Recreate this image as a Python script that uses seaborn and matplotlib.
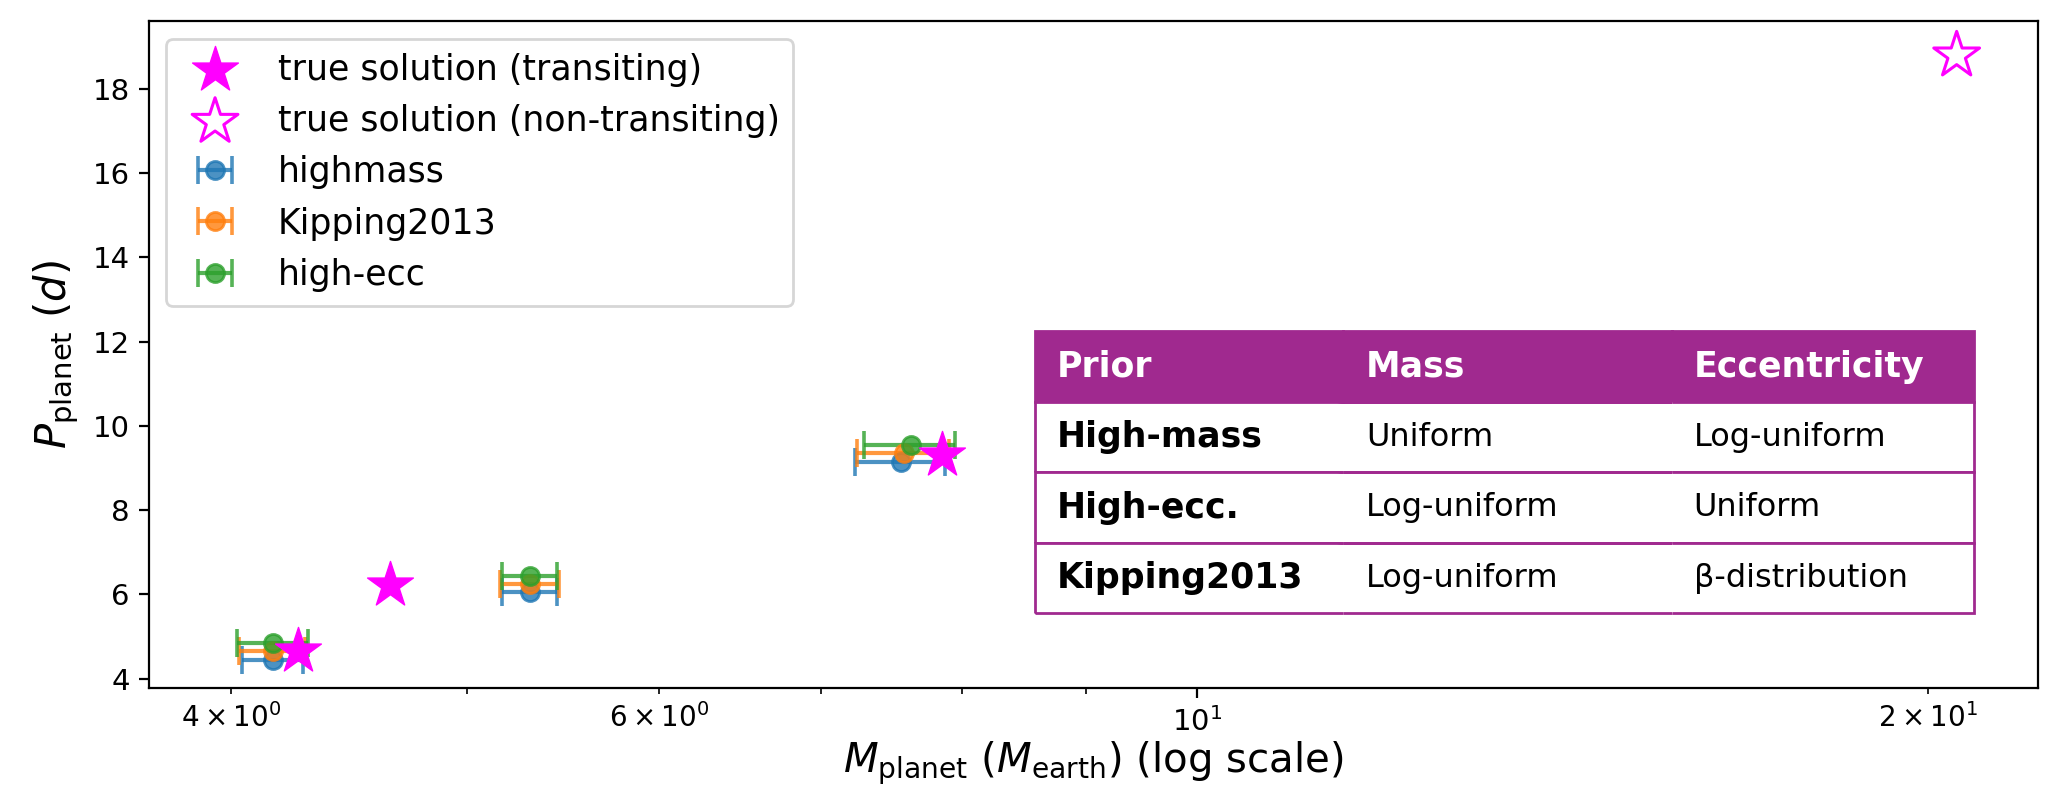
#!/usr/bin/env python3

# Planet mass vs period: true solutions and fitted results for three priors.

import matplotlib
matplotlib.use('Agg')
import matplotlib.pyplot as plt
import seaborn as sns

# true solutions
true_mass = [4.26, 4.65, 7.85]
true_period = [4.66, 6.22, 9.31]
nontransit_mass = [20.55]
nontransit_period = [18.79]

# fitted results (one point per planet, per prior)
fit_labels = ['highmass', 'Kipping2013', 'high-ecc']
fit_mass = [
    [4.16, 5.31, 7.55],
    [4.16, 5.31, 7.57],
    [4.16, 5.31, 7.62],
]
fit_mass_err = [
    [0.12, 0.14, 0.32],
    [0.13, 0.15, 0.33],
    [0.14, 0.14, 0.33],
]
fit_period = [
    [4.45, 6.06, 9.14],
    [4.65, 6.25, 9.36],
    [4.85, 6.43, 9.55],
]

table_header = ['Prior', 'Mass', 'Eccentricity']
table_rows = [
    ['High-mass', 'Uniform', 'Log-uniform'],
    ['High-ecc.', 'Log-uniform', 'Uniform'],
    ['Kipping2013', 'Log-uniform', 'β-distribution'],
]

PURPLE = '#a0298f'
MAGENTA = '#ff00ff'


def plot_fits(ax):
    colors = sns.color_palette('tab10', 3)
    for label, m, e, p, c in zip(fit_labels, fit_mass, fit_mass_err,
                                 fit_period, colors):
        ax.errorbar(m, p, xerr=e, fmt='o', color=c, alpha=0.8,
                    markersize=6.5, elinewidth=1.5, capsize=5,
                    capthick=1.3, label=label)


def plot_truth(ax):
    sns.scatterplot(x=true_mass, y=true_period, marker='*', s=300,
                    color=MAGENTA, edgecolor=MAGENTA, linewidth=0.5,
                    label='true solution (transiting)', ax=ax, zorder=5)
    ax.scatter(nontransit_mass, nontransit_period, marker='*', s=300,
               facecolors='none', edgecolors=MAGENTA, linewidths=1.1,
               label='true solution (non-transiting)', zorder=5)


def draw_table(ax):
    tab = ax.table(
        cellText=[table_header] + table_rows,
        colWidths=[0.328, 0.351, 0.321],
        cellLoc='left',
        bbox=[0.469, 0.112, 0.497, 0.423],
    )
    tab.auto_set_font_size(False)
    for (r, c), cell in tab.get_celld().items():
        cell.set_edgecolor(PURPLE)
        cell.set_linewidth(1.0)
        cell.PAD = 0.07
        txt = cell.get_text()
        txt.set_fontsize(11.5)
        if r == 0:
            cell.set_facecolor(PURPLE)
            txt.set_color('white')
            txt.set_weight('bold')
            txt.set_fontsize(12.5)
            cell.visible_edges = 'closed'
        else:
            cell.set_facecolor('white')
            txt.set_color('black')
            if c == 0:
                txt.set_weight('bold')
                txt.set_fontsize(12.5)
                cell.visible_edges = 'BTL'
            elif c == 2:
                cell.visible_edges = 'BTR'
            else:
                cell.visible_edges = 'BT'
    return tab


def main():
    sns.set_style('ticks')
    plt.rcParams['font.family'] = ['DejaVu Sans']
    for key in ['text.color', 'axes.labelcolor', 'xtick.color',
                'ytick.color', 'axes.edgecolor']:
        plt.rcParams[key] = 'black'
    fig = plt.figure(figsize=(10.31, 3.945), dpi=200)
    ax = fig.add_axes([0.0723, 0.128, 0.9161, 0.845])

    plot_truth(ax)
    plot_fits(ax)

    ax.set_xscale('log')
    ax.set_xlim(3.70, 22.2)
    ax.set_ylim(3.78, 19.6)
    ax.tick_params(labelsize=10.5)
    ax.set_xlabel(r'$M_{\rm planet}$ $(M_{\rm earth})$ (log scale)',
                  fontsize=14.5, labelpad=1)
    ax.set_ylabel(r'$P_{\rm planet}$ $(d)$', fontsize=15)

    ax.legend(loc='upper left', fontsize=12.5)
    draw_table(ax)

    fig.savefig('out.png', dpi=200)


if __name__ == '__main__':
    main()
